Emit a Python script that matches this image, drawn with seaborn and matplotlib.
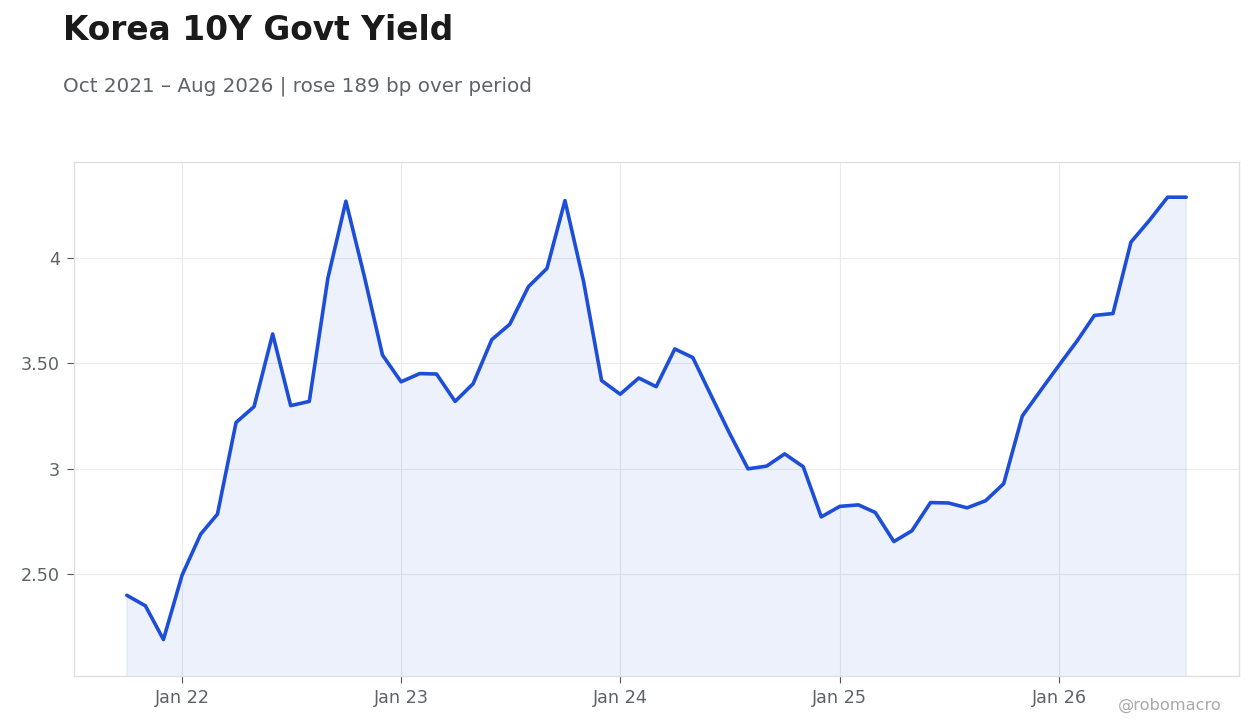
import matplotlib
matplotlib.use("Agg")
import matplotlib.pyplot as plt
import matplotlib.dates as mdates
import matplotlib.ticker as mticker
import numpy as np
import pandas as pd
import seaborn as sns

# ---- data ----
start_month = "2021-10-01"
end_month = "2026-08-01"
yields = [
    2.40, 2.35, 2.19,
    2.495, 2.69, 2.785, 3.22, 3.295, 3.64, 3.30, 3.32, 3.905, 4.27, 3.91, 3.54,
    3.413, 3.452, 3.45, 3.32, 3.404, 3.613, 3.686, 3.864, 3.951, 4.273, 3.889, 3.419,
    3.354, 3.431, 3.39, 3.569, 3.528, 3.345, 3.17, 3.00, 3.013, 3.071, 3.01, 2.772,
    2.822, 2.829, 2.793, 2.655, 2.706, 2.84, 2.838, 2.815, 2.849, 2.93, 3.251, 3.37,
    3.491, 3.61, 3.728, 3.737, 4.076, 4.18, 4.289, 4.289,
]
y_ticks = [2.5, 3.0, 3.5, 4.0]
y_tick_labels = ["2.50", "3", "3.50", "4"]
x_tick_dates = ["2022-01-01", "2023-01-01", "2024-01-01", "2025-01-01", "2026-01-01"]
x_tick_labels = ["Jan 22", "Jan 23", "Jan 24", "Jan 25", "Jan 26"]
title = "Korea 10Y Govt Yield"
subtitle = "Oct 2021 \u2013 Aug 2026 | rose 189 bp over period"
watermark = "@robomacro"

dates = pd.date_range(start_month, end_month, freq="MS")
df = pd.DataFrame({"date": dates, "yield": yields})

sns.set_theme(style="white")
plt.rcParams["font.family"] = ["DejaVu Sans"]

fig = plt.figure(figsize=(12.6, 7.28), dpi=100)
ax = fig.add_axes([74 / 1260, 1 - 676 / 728, (1239 - 74) / 1260, (676 - 162) / 728])

line_color = "#1d4ed8"
ax.fill_between(df["date"], df["yield"], 0, color=line_color, alpha=0.08, linewidth=1,
                edgecolor=(0.11, 0.31, 0.85, 0.08))
sns.lineplot(data=df, x="date", y="yield", ax=ax, color=line_color, linewidth=2.6)

pad = pd.Timedelta(days=88)
ax.set_xlim(dates[0] - pad, dates[-1] + pad)
ax.set_ylim(2.017, 4.456)

ax.set_xticks(pd.to_datetime(x_tick_dates))
ax.set_xticklabels(x_tick_labels)
ax.set_yticks(y_ticks)
ax.set_yticklabels(y_tick_labels)
ax.set_xlabel("")
ax.set_ylabel("")

ax.grid(True, color="#ebebeb", linewidth=0.8)
ax.set_axisbelow(True)
for s in ax.spines.values():
    s.set_color("#e0e0e0")
    s.set_linewidth(1.0)
ax.tick_params(axis="both", which="major", length=5, width=0.8, color="#555555",
               labelsize=12.7, labelcolor="#5f6368", direction="out")
ax.tick_params(axis="x", pad=4.5)
ax.tick_params(axis="y", pad=5)
ax.tick_params(axis="x", bottom=True)
ax.tick_params(axis="y", left=True)

fig.text(63 / 1260, 1 - 30 / 728, title, fontsize=23.7, fontweight="bold", color="#1a1a1a",
         ha="left", va="center")
fig.text(63 / 1260, 1 - 86 / 728, subtitle, fontsize=14.3, color="#5f6368",
         ha="left", va="center")
fig.text(1222 / 1260, 1 - 705 / 728, watermark, fontsize=11.7, color="#aaaaaa",
         ha="right", va="center")

fig.savefig("out.png", dpi=100)
